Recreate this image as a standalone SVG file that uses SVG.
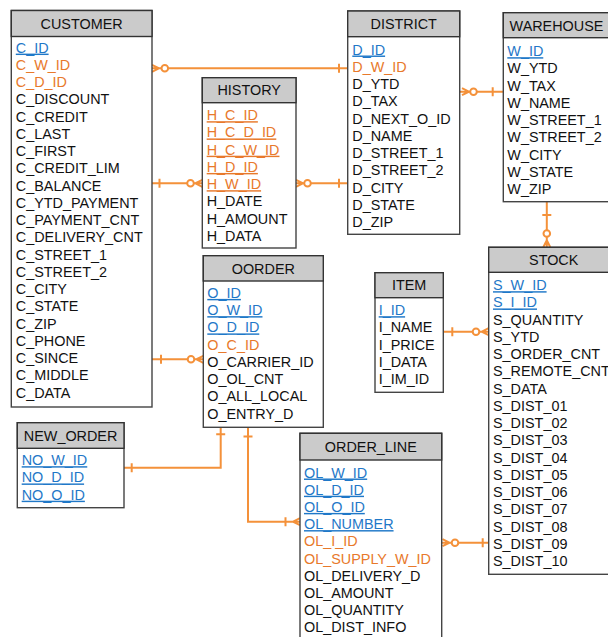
<svg xmlns="http://www.w3.org/2000/svg" width="608" height="637" viewBox="0 0 608 637">
<style>
text{font-family:"Liberation Sans",Arial,sans-serif;font-size:14.4px;fill:#111}
.t{text-anchor:middle}
.pk{fill:#1f78c8;text-decoration:underline;text-decoration-thickness:1.6px}
.fk{fill:#e8792b}
.hk{fill:#e8792b;text-decoration:underline;text-decoration-thickness:1.6px}
.box{fill:#fff;stroke:#444;stroke-width:1.4}
.hdr{fill:#cbcbcb;stroke:#333;stroke-width:1.4}
.ln{fill:none;stroke:#f4913a;stroke-width:2}
.cir{fill:#fff;stroke:#f4913a;stroke-width:2}
</style>
<rect width="608" height="637" fill="#fff"/>
<g id="connectors">
  <!-- CUSTOMER - DISTRICT -->
  <path class="ln" d="M152,68.3H347.7M152,64.8L159,68.3L152,71.8M339,63.8V72.8"/>
  <circle class="cir" cx="164.8" cy="68.3" r="3.3"/>
  <!-- CUSTOMER - HISTORY -->
  <path class="ln" d="M152,183.3H202.3M159.5,178.8V187.8M202.3,179.8L195.3,183.3L202.3,186.8"/>
  <circle class="cir" cx="190.5" cy="183.3" r="3.3"/>
  <!-- HISTORY - DISTRICT -->
  <path class="ln" d="M296,183.3H347.7M296,179.8L303,183.3L296,186.8M339,178.8V187.8"/>
  <circle class="cir" cx="307.5" cy="183.3" r="3.3"/>
  <!-- DISTRICT - WAREHOUSE -->
  <path class="ln" d="M459.7,91.7H503.3M462,88.2L469,91.7L462,95.2M492.7,87.2V96.2"/>
  <circle class="cir" cx="473.5" cy="91.7" r="3.3"/>
  <!-- WAREHOUSE - STOCK -->
  <path class="ln" d="M546.8,201.7V247.3M542.3,215H551.3M543.3,247.3L546.8,240.3L550.3,247.3"/>
  <circle class="cir" cx="546.8" cy="233.5" r="3.3"/>
  <!-- CUSTOMER - OORDER -->
  <path class="ln" d="M152,359.3H203.3M161,354.8V363.8M203.3,355.8L196.3,359.3L203.3,362.8"/>
  <circle class="cir" cx="191" cy="359.3" r="3.3"/>
  <!-- OORDER - NEW_ORDER -->
  <path class="ln" d="M124,467.7H220.7V427.3M131.7,463.2V472.2M216.2,434.3H225.2"/>
  <!-- OORDER - ORDER_LINE -->
  <path class="ln" d="M248,427.3V521.7H300M243.5,436.5H252.5M285.5,517.2V526.2M300,518.2L293,521.7L300,525.2"/>
  <!-- ITEM - STOCK -->
  <path class="ln" d="M443.3,331.7H488.7M452.3,327.2V336.2M488.7,328.2L481.7,331.7L488.7,335.2"/>
  <circle class="cir" cx="476" cy="331.7" r="3.3"/>
  <!-- ORDER_LINE - STOCK -->
  <path class="ln" d="M441.7,542.7H488.7M442.5,539.2L449.5,542.7L442.5,546.2M482.7,538.2V547.2"/>
  <circle class="cir" cx="455" cy="542.7" r="3.3"/>
</g>
<g id="customer">
  <rect class="box" x="11.3" y="10.5" width="140.7" height="396.5"/>
  <rect class="hdr" x="11.3" y="10.5" width="140.7" height="26"/>
  <text class="t" x="81.6" y="28.5">CUSTOMER</text>
  <text class="pk" x="15.8" y="52.6">C_ID</text>
  <text class="fk" x="15.8" y="69.85">C_W_ID</text>
  <text class="fk" x="15.8" y="87.1">C_D_ID</text>
  <text x="15.8" y="104.35">C_DISCOUNT</text>
  <text x="15.8" y="121.6">C_CREDIT</text>
  <text x="15.8" y="138.85">C_LAST</text>
  <text x="15.8" y="156.1">C_FIRST</text>
  <text x="15.8" y="173.35">C_CREDIT_LIM</text>
  <text x="15.8" y="190.6">C_BALANCE</text>
  <text x="15.8" y="207.85">C_YTD_PAYMENT</text>
  <text x="15.8" y="225.1">C_PAYMENT_CNT</text>
  <text x="15.8" y="242.35">C_DELIVERY_CNT</text>
  <text x="15.8" y="259.6">C_STREET_1</text>
  <text x="15.8" y="276.85">C_STREET_2</text>
  <text x="15.8" y="294.1">C_CITY</text>
  <text x="15.8" y="311.35">C_STATE</text>
  <text x="15.8" y="328.6">C_ZIP</text>
  <text x="15.8" y="345.85">C_PHONE</text>
  <text x="15.8" y="363.1">C_SINCE</text>
  <text x="15.8" y="380.35">C_MIDDLE</text>
  <text x="15.8" y="397.6">C_DATA</text>
</g>
<g id="history">
  <rect class="box" x="202.3" y="77.7" width="93.7" height="170.3"/>
  <rect class="hdr" x="202.3" y="77.7" width="93.7" height="25"/>
  <text class="t" x="249.2" y="95">HISTORY</text>
  <text class="hk" x="206.7" y="120.2">H_C_ID</text>
  <text class="hk" x="206.7" y="137.45">H_C_D_ID</text>
  <text class="hk" x="206.7" y="154.7">H_C_W_ID</text>
  <text class="hk" x="206.7" y="171.95">H_D_ID</text>
  <text class="hk" x="206.7" y="189.2">H_W_ID</text>
  <text x="206.7" y="206.45">H_DATE</text>
  <text x="206.7" y="223.7">H_AMOUNT</text>
  <text x="206.7" y="240.95">H_DATA</text>
</g>
<g id="district">
  <rect class="box" x="347.7" y="11" width="112" height="223.3"/>
  <rect class="hdr" x="347.7" y="11" width="112" height="25.7"/>
  <text class="t" x="403.7" y="29.2">DISTRICT</text>
  <text class="pk" x="352.3" y="54.5">D_ID</text>
  <text class="fk" x="352.3" y="71.75">D_W_ID</text>
  <text x="352.3" y="89">D_YTD</text>
  <text x="352.3" y="106.25">D_TAX</text>
  <text x="352.3" y="123.5">D_NEXT_O_ID</text>
  <text x="352.3" y="140.75">D_NAME</text>
  <text x="352.3" y="158">D_STREET_1</text>
  <text x="352.3" y="175.25">D_STREET_2</text>
  <text x="352.3" y="192.5">D_CITY</text>
  <text x="352.3" y="209.75">D_STATE</text>
  <text x="352.3" y="227">D_ZIP</text>
</g>
<g id="warehouse">
  <rect class="box" x="503.3" y="12.7" width="106.5" height="189"/>
  <rect class="hdr" x="503.3" y="12.7" width="106.5" height="25"/>
  <text class="t" x="556.5" y="30.5">WAREHOUSE</text>
  <text class="pk" x="507.3" y="56.2">W_ID</text>
  <text x="507.3" y="73.45">W_YTD</text>
  <text x="507.3" y="90.7">W_TAX</text>
  <text x="507.3" y="107.95">W_NAME</text>
  <text x="507.3" y="125.2">W_STREET_1</text>
  <text x="507.3" y="142.45">W_STREET_2</text>
  <text x="507.3" y="159.7">W_CITY</text>
  <text x="507.3" y="176.95">W_STATE</text>
  <text x="507.3" y="194.2">W_ZIP</text>
</g>
<g id="oorder">
  <rect class="box" x="203.3" y="255.7" width="120" height="171.6"/>
  <rect class="hdr" x="203.3" y="255.7" width="120" height="25.3"/>
  <text class="t" x="263.3" y="273.5">OORDER</text>
  <text class="pk" x="207.3" y="297.9">O_ID</text>
  <text class="pk" x="207.3" y="315.15">O_W_ID</text>
  <text class="pk" x="207.3" y="332.4">O_D_ID</text>
  <text class="fk" x="207.3" y="349.65">O_C_ID</text>
  <text x="207.3" y="366.9">O_CARRIER_ID</text>
  <text x="207.3" y="384.15">O_OL_CNT</text>
  <text x="207.3" y="401.4">O_ALL_LOCAL</text>
  <text x="207.3" y="418.65">O_ENTRY_D</text>
</g>
<g id="new_order">
  <rect class="box" x="17.3" y="422.7" width="106.7" height="85"/>
  <rect class="hdr" x="17.3" y="422.7" width="106.7" height="25.6"/>
  <text class="t" x="70.6" y="440.6">NEW_ORDER</text>
  <text class="pk" x="21.7" y="465.2">NO_W_ID</text>
  <text class="pk" x="21.7" y="482.45">NO_D_ID</text>
  <text class="pk" x="21.7" y="499.7">NO_O_ID</text>
</g>
<g id="item">
  <rect class="box" x="375" y="272.7" width="68.3" height="119.6"/>
  <rect class="hdr" x="375" y="272.7" width="68.3" height="25"/>
  <text class="t" x="409.1" y="290.3">ITEM</text>
  <text class="pk" x="378.7" y="315.2">I_ID</text>
  <text x="378.7" y="332.45">I_NAME</text>
  <text x="378.7" y="349.7">I_PRICE</text>
  <text x="378.7" y="366.95">I_DATA</text>
  <text x="378.7" y="384.2">I_IM_ID</text>
</g>
<g id="stock">
  <rect class="box" x="488.7" y="247.3" width="130" height="327"/>
  <rect class="hdr" x="488.7" y="247.3" width="130" height="25"/>
  <text class="t" x="553.7" y="265">STOCK</text>
  <text class="pk" x="493" y="290.2">S_W_ID</text>
  <text class="pk" x="493" y="307.45">S_I_ID</text>
  <text x="493" y="324.7">S_QUANTITY</text>
  <text x="493" y="341.95">S_YTD</text>
  <text x="493" y="359.2">S_ORDER_CNT</text>
  <text x="493" y="376.45">S_REMOTE_CNT</text>
  <text x="493" y="393.7">S_DATA</text>
  <text x="493" y="410.95">S_DIST_01</text>
  <text x="493" y="428.2">S_DIST_02</text>
  <text x="493" y="445.45">S_DIST_03</text>
  <text x="493" y="462.7">S_DIST_04</text>
  <text x="493" y="479.95">S_DIST_05</text>
  <text x="493" y="497.2">S_DIST_06</text>
  <text x="493" y="514.45">S_DIST_07</text>
  <text x="493" y="531.7">S_DIST_08</text>
  <text x="493" y="548.95">S_DIST_09</text>
  <text x="493" y="566.2">S_DIST_10</text>
</g>
<g id="order_line">
  <rect class="box" x="300" y="433.3" width="141.7" height="215"/>
  <rect class="hdr" x="300" y="433.3" width="141.7" height="26.7"/>
  <text class="t" x="370.8" y="451.8">ORDER_LINE</text>
  <text class="pk" x="304" y="477.5">OL_W_ID</text>
  <text class="pk" x="304" y="494.7">OL_D_ID</text>
  <text class="pk" x="304" y="511.9">OL_O_ID</text>
  <text class="pk" x="304" y="529.1">OL_NUMBER</text>
  <text class="fk" x="304" y="546.3">OL_I_ID</text>
  <text class="fk" x="304" y="563.5">OL_SUPPLY_W_ID</text>
  <text x="304" y="580.7">OL_DELIVERY_D</text>
  <text x="304" y="597.9">OL_AMOUNT</text>
  <text x="304" y="615.1">OL_QUANTITY</text>
  <text x="304" y="632.3">OL_DIST_INFO</text>
</g>
</svg>
